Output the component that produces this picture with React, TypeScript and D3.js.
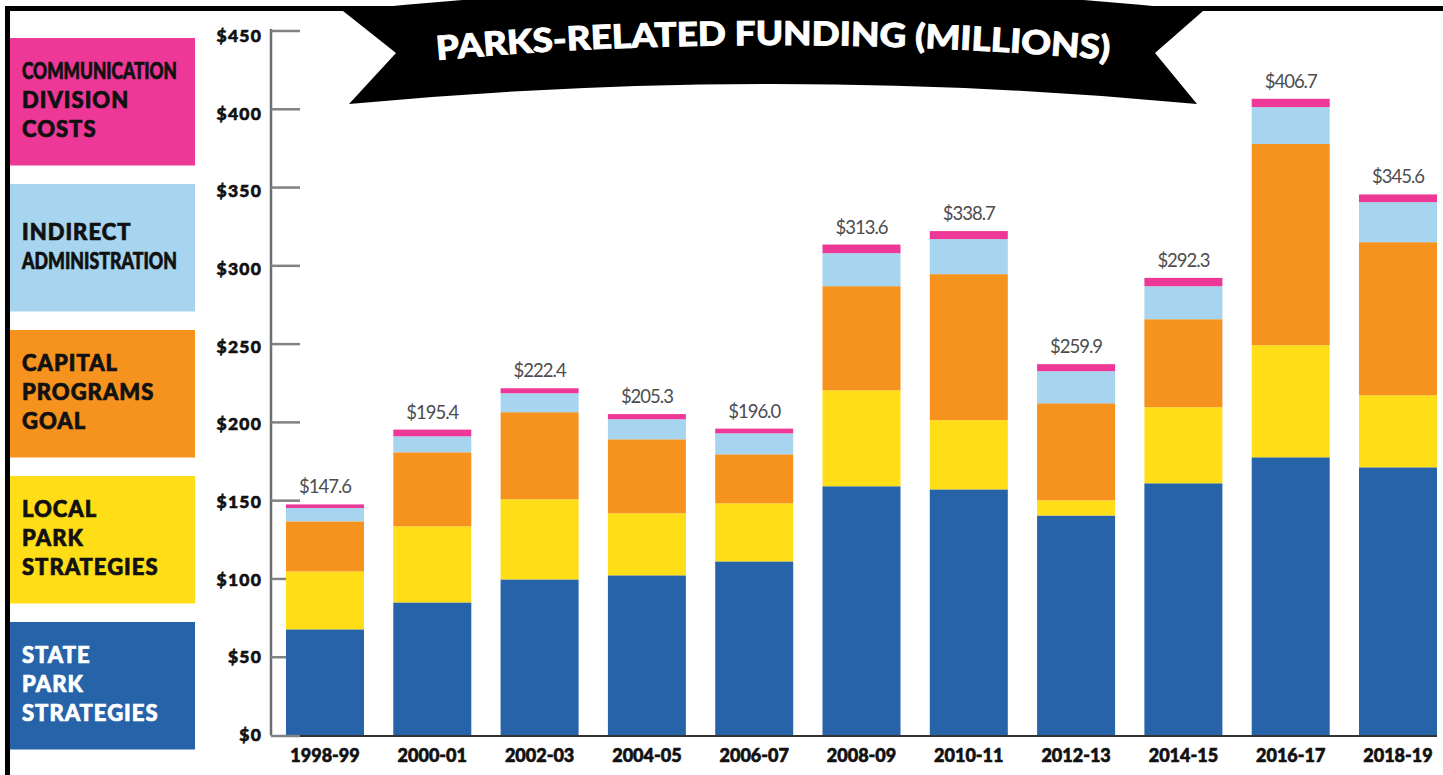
import React from 'react';
import * as d3 from 'd3';

const categories = ['1998-99', '2000-01', '2002-03', '2004-05', '2006-07', '2008-09', '2010-11', '2012-13', '2014-15', '2016-17', '2018-19'];
const stateParkStrategies = [67.8, 85.0, 99.7, 102.3, 111.2, 159.2, 157.2, 140.5, 161.1, 177.7, 171.3];
const localParkStrategies = [37.0, 48.6, 51.2, 39.6, 37.1, 61.3, 44.2, 9.7, 48.6, 71.6, 46.0];
const capitalProgramsGoal = [32.0, 47.3, 55.6, 47.3, 31.3, 66.5, 93.3, 62.0, 56.2, 128.5, 97.8];
const indirectAdministration = [8.5, 10.2, 12.1, 12.8, 13.4, 21.1, 22.4, 20.5, 21.1, 23.6, 25.6];
const communicationDivision = [2.3, 4.3, 3.2, 3.3, 3.0, 5.5, 5.1, 4.5, 5.3, 5.3, 4.9];
const totalLabels = ['$147.6', '$195.4', '$222.4', '$205.3', '$196.0', '$313.6', '$338.7', '$259.9', '$292.3', '$406.7', '$345.6'];
const yTicks = [0, 50, 100, 150, 200, 250, 300, 350, 400, 450];

const seriesKeys = ['state', 'local', 'capital', 'indirect', 'comm'];
const seriesColors: Record<string, string> = {
  state: '#2763A8',
  local: '#FFDD17',
  capital: '#F6921E',
  indirect: '#A7D4EE',
  comm: '#EE3897',
};
// legend order from top to bottom
const legendKeys = ['comm', 'indirect', 'capital', 'local', 'state'];
const legendLines: Record<string, string[]> = {
  comm: ['COMMUNICATION', 'DIVISION', 'COSTS'],
  indirect: ['INDIRECT', 'ADMINISTRATION'],
  capital: ['CAPITAL', 'PROGRAMS', 'GOAL'],
  local: ['LOCAL', 'PARK', 'STRATEGIES'],
  state: ['STATE', 'PARK', 'STRATEGIES'],
};
const legendTextColor: Record<string, string> = {
  comm: '#111', indirect: '#111', capital: '#111', local: '#111', state: '#fff',
};
const condensedLines = ['COMMUNICATION', 'ADMINISTRATION'];

const W = 1443;
const H = 775;
const FONT = 'Lato, "Open Sans", sans-serif';

export default function App() {
  const rows = categories.map((c, i) => ({
    cat: c,
    state: stateParkStrategies[i],
    local: localParkStrategies[i],
    capital: capitalProgramsGoal[i],
    indirect: indirectAdministration[i],
    comm: communicationDivision[i],
  }));
  const stacked = d3.stack<any>().keys(seriesKeys)(rows);

  const x = d3.scaleBand<string>().domain(categories).range([286, 1437]).paddingInner(0.273).paddingOuter(0);
  const y = d3.scaleLinear().domain([0, 450]).range([735.5, 31]);
  const yLabel = d3.scaleLinear().domain([0, 450]).range([741, 42]);

  const axisX = 271;
  const legendTop = d3.scaleLinear().domain([0, 1]).range([38, 184]);

  const tops = rows.map((_, i) => stacked[stacked.length - 1][i][1]);

  return (
    <svg width={W} height={H} style={{ position: 'absolute', left: 0, top: 0, background: '#fff' }} fontFamily={FONT}>
      <rect x={0} y={0} width={W} height={H} fill="#fff" />
      {/* frame */}
      <rect x={7.5} y={8.5} width={1600} height={1000} fill="none" stroke="#000" strokeWidth={5} />

      {/* legend */}
      {legendKeys.map((k, i) => {
        const top = legendTop(i);
        const lines = legendLines[k];
        const first = top + 70 - ((lines.length - 1) * 29) / 2;
        return (
          <g key={k}>
            <rect x={10} y={top} width={185} height={127.5} fill={seriesColors[k]} />
            {lines.map((ln, j) => (
              <text
                key={j}
                x={22}
                y={first + j * 29}
                fontSize={22}
                fontWeight={900}
                fill={legendTextColor[k]}
                stroke={legendTextColor[k]}
                strokeWidth={0.7}
                letterSpacing={condensedLines.includes(ln) ? 0 : 1}
                {...(condensedLines.includes(ln) ? { textLength: 155, lengthAdjust: 'spacingAndGlyphs' } : {})}
              >
                {ln}
              </text>
            ))}
          </g>
        );
      })}

      {/* y axis */}
      <line x1={axisX} x2={axisX} y1={y(450) - 2} y2={y(0)} stroke="#6d6e71" strokeWidth={2.5} />
      {yTicks.map((t) => (
        <g key={t}>
          {t > 0 && <line x1={axisX} x2={300} y1={y(t)} y2={y(t)} stroke="#808285" strokeWidth={2.5} />}
          <text x={262} y={yLabel(t)} textAnchor="end" fontSize={17.5} fontWeight={900} letterSpacing={1.2} fill="#111" stroke="#111" strokeWidth={0.6}>
            {`$${t}`}
          </text>
        </g>
      ))}

      {/* bars */}
      {stacked.map((s) => (
        <g key={s.key} fill={seriesColors[s.key]}>
          {s.map((d, i) => (
            <rect key={i} x={x(categories[i])} y={y(d[1])} width={x.bandwidth()} height={y(d[0]) - y(d[1])} />
          ))}
        </g>
      ))}

      {/* baseline */}
      <line x1={axisX} x2={300} y1={736} y2={736} stroke="#808285" strokeWidth={2.5} />
      <line x1={300} x2={1437} y1={736} y2={736} stroke="#333" strokeWidth={2} />

      {/* total labels */}
      {categories.map((c, i) => (
        <text key={c} x={(x(c) as number) + x.bandwidth() / 2} y={y(tops[i]) - 11} textAnchor="middle" fontSize={18.5} fontWeight={400} letterSpacing={-1} fill="#4d4d4f">
          {totalLabels[i]}
        </text>
      ))}

      {/* category labels */}
      {categories.map((c) => (
        <text key={c} x={(x(c) as number) + x.bandwidth() / 2} y={762} textAnchor="middle" fontSize={18} fontWeight={900} letterSpacing={0} fill="#111" stroke="#111" strokeWidth={0.6}>
          {c}
        </text>
      ))}

      {/* title banner */}
      <path d="M343,11 Q773,-35 1203,11 L1155,53 L1197,104 Q773,64 349,104 L396,53 Z" fill="#000" />
      <defs>
        <path id="titleArc" d="M437,60 Q773,30 1110,60" />
      </defs>
      <text fontSize={33} fontWeight={900} fill="#fff" stroke="#fff" strokeWidth={0.9}>
        <textPath href="#titleArc" textLength={673} lengthAdjust="spacingAndGlyphs">
          PARKS-RELATED FUNDING (MILLIONS)
        </textPath>
      </text>
    </svg>
  );
}
